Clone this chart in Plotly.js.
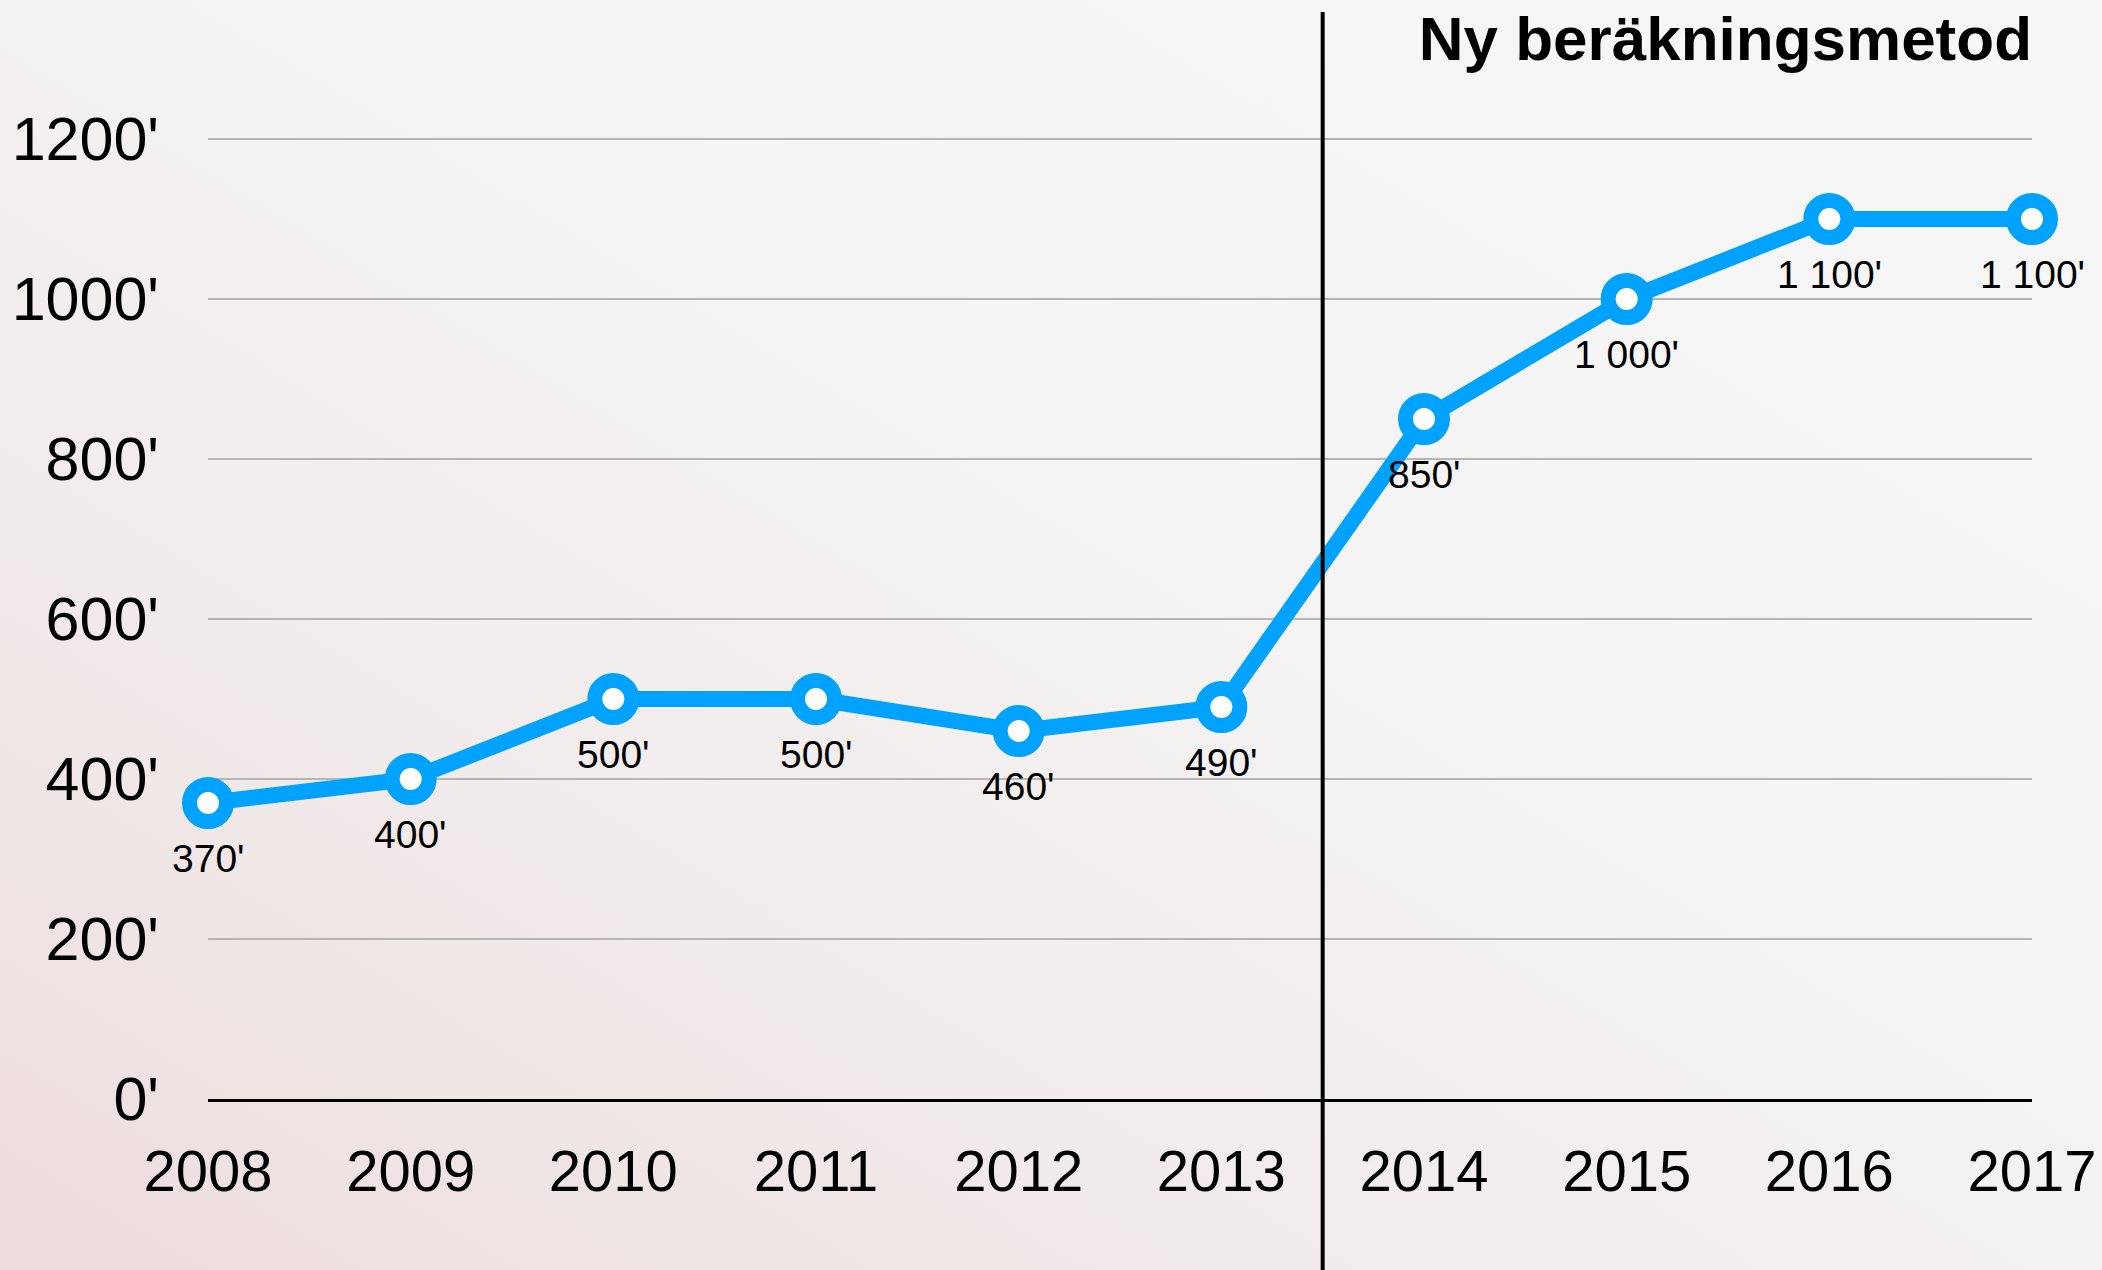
<!DOCTYPE html>
<html>
<head>
<meta charset="utf-8">
<script src="https://cdn.plot.ly/plotly-3.0.1.min.js"></script>
<style>
  html, body { margin: 0; padding: 0; }
  body {
    width: 2102px; height: 1270px; overflow: hidden;
    background: linear-gradient(to top right, #ecdcdc 0%, #f2ebeb 30%, #f5f4f4 60%, #f7f7f7 100%);
  }
  #chart { width: 2102px; height: 1270px; }
</style>
</head>
<body>
<div id="chart"></div>
<script>
// ---- data ----
const years = [2008, 2009, 2010, 2011, 2012, 2013, 2014, 2015, 2016, 2017];
const values = [370, 400, 500, 500, 460, 490, 850, 1000, 1100, 1100];
const valueLabels = ["370'", "400'", "500'", "500'", "460'", "490'", "850'", "1 000'", "1 100'", "1 100'"];
const yTickVals = [0, 200, 400, 600, 800, 1000, 1200];
const yTickText = ["0'", "200'", "400'", "600'", "800'", "1000'", "1200'"];
const xTickText = ["2008", "2009", "2010", "2011", "2012", "2013", "2014", "2015", "2016", "2017"];
const methodChangeAt = 2013.5;
const titleText = "Ny beräkningsmetod";

const FONT = '"Liberation Sans", Arial, Helvetica, sans-serif';
const BLUE = '#00A2FF';

const trace = {
  type: 'scatter',
  mode: 'lines+markers',
  x: years,
  y: values,
  line: { color: BLUE, width: 16 },
  marker: { size: 37, color: '#ffffff', line: { color: BLUE, width: 15 } },
  cliponaxis: false,
  hoverinfo: 'skip'
};

const annotations = years.map((yr, i) => ({
  x: yr, y: values[i], xref: 'x', yref: 'y',
  text: valueLabels[i], showarrow: false,
  yshift: -55, xanchor: 'center', yanchor: 'middle',
  font: { family: FONT, size: 39, color: '#000' }
}));

const layout = {
  width: 2102, height: 1270,
  paper_bgcolor: 'rgba(0,0,0,0)',
  plot_bgcolor: 'rgba(0,0,0,0)',
  margin: { l: 208, r: 70, t: 99, b: 171 },
  showlegend: false,
  title: {
    text: titleText,
    x: 1, xref: 'paper', xanchor: 'right',
    y: 1 - 38.5 / 1270, yref: 'container', yanchor: 'middle',
    font: { family: FONT, size: 62, color: '#000', weight: 'bold' }
  },
  xaxis: {
    range: [2008, 2017],
    tickvals: years, ticktext: xTickText,
    showgrid: false, zeroline: false,
    showline: true, linecolor: '#000', linewidth: 3,
    ticks: '', ticklabelstandoff: 19,
    tickfont: { family: FONT, size: 58, color: '#000' }
  },
  yaxis: {
    range: [0, 1250],
    tickvals: yTickVals, ticktext: yTickText,
    showgrid: true, gridcolor: '#b5b5b5', gridwidth: 2,
    zeroline: false, showline: false,
    ticks: '', ticklabelstandoff: 48,
    tickfont: { family: FONT, size: 61, color: '#000' }
  },
  shapes: [{
    type: 'line', xref: 'x', yref: 'paper',
    x0: methodChangeAt, x1: methodChangeAt, y0: -0.2, y1: 1.087,
    line: { color: '#000', width: 4 }, layer: 'above'
  }],
  annotations: annotations
};

Plotly.newPlot('chart', [trace], layout, { displayModeBar: false, staticPlot: true });
</script>
</body>
</html>
